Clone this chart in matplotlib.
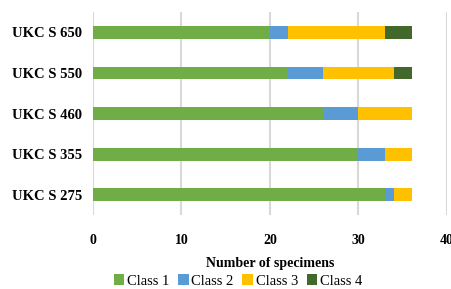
import matplotlib
matplotlib.use("Agg")
import matplotlib.pyplot as plt
import numpy as np

categories = ["UKC S 275", "UKC S 355", "UKC S 460", "UKC S 550", "UKC S 650"]
class1 = [33, 30, 26, 22, 20]
class2 = [1, 3, 4, 4, 2]
class3 = [2, 3, 6, 8, 11]
class4 = [0, 0, 0, 2, 3]
series = ["Class 1", "Class 2", "Class 3", "Class 4"]
colors = ["#70AD47", "#5B9BD5", "#FFC000", "#43682B"]

plt.rcParams["font.family"] = ["Liberation Serif", "DejaVu Serif"]

fig = plt.figure(figsize=(4.51, 2.89), dpi=100)
ax = fig.add_axes([0.206, 0.256, 0.785, 0.702])

y = np.arange(len(categories))
left = np.zeros(len(categories))
for vals, name, col in zip([class1, class2, class3, class4], series, colors):
    ax.barh(y, vals, left=left, height=0.32, color=col, label=name, zorder=3)
    left += np.array(vals)

ax.set_xlim(0, 40)
ax.set_ylim(-0.5, 4.5)
ax.set_xticks([0, 10, 20, 30, 40])
ax.set_yticks(y)
ax.set_yticklabels(categories, fontsize=10.5, fontweight="bold")
for lab in ax.get_xticklabels():
    lab.set_fontweight("bold")
    lab.set_fontsize(10)
ax.tick_params(axis="y", length=0, pad=8)
ax.tick_params(axis="x", length=0, pad=14)
ax.grid(axis="x", color="#D9D9D9", linewidth=1.5, zorder=0)
for s in ax.spines.values():
    s.set_visible(False)

ax.set_xlabel("Number of specimens", fontsize=10, fontweight="bold", labelpad=7)
ax.legend(loc="center", bbox_to_anchor=(0.41, -0.325), ncol=4, frameon=False,
          fontsize=10.5, handlelength=0.7, handleheight=0.7, handletextpad=0.2,
          columnspacing=0.6, borderpad=0)

fig.savefig("out.png", dpi=100)
